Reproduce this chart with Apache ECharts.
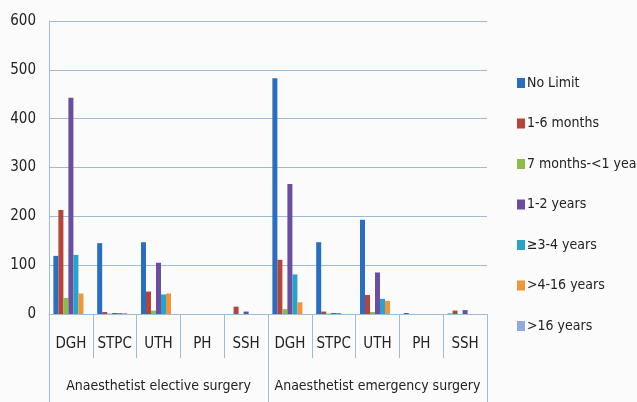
<!DOCTYPE html>
<html>
<head>
<meta charset="utf-8">
<script src="https://cdn.jsdelivr.net/npm/echarts@6/dist/echarts.min.js"></script>
<style>
  html, body { margin: 0; padding: 0; background: #fbfbfb; }
  #chart { width: 637px; height: 402px; }
</style>
</head>
<body>
<div id="chart"></div>
<script>
// hospital types, repeated for each group
var hospitals = ['DGH', 'STPC', 'UTH', 'PH', 'SSH', 'DGH', 'STPC', 'UTH', 'PH', 'SSH'];
var groups = ['Anaesthetist elective surgery', 'Anaesthetist emergency surgery'];
var seriesNames = ['No Limit', '1-6 months', '7 months-<1 year', '1-2 years', '≥3-4 years', '>4-16 years', '>16 years'];
var seriesColors = ['#2a6fbf', '#b5453a', '#8bbd4a', '#6a4fa0', '#2aa3c8', '#f0963a', '#92a9dc'];

// values (elective 5 then emergency 5)
var noLimit   = [119, 145, 147, 0, 0, 483, 147, 193, 2, 1];
var m1to6     = [213, 4, 46, 0, 15, 111, 5, 39, 0, 7];
var m7to1y    = [33, 1, 7, 0, 0, 10, 1, 4, 0, 0];
var y1to2     = [443, 2, 105, 0, 5, 266, 2, 85, 0, 8];
var y3to4     = [121, 2, 40, 0, 0, 81, 2, 31, 0, 0];
var y4to16    = [42, 2, 42, 0, 0, 24, 0, 27, 0, 0];
var over16    = [0, 0, 0, 0, 0, 0, 0, 0, 0, 0];
var allValues = [noLimit, m1to6, m7to1y, y1to2, y3to4, y4to16, over16];

var font = "'Liberation Sans Narrow', 'DejaVu Sans Condensed', sans-serif";
var lineColor = '#9dbcd6';

var series = seriesNames.map(function (name, i) {
  return {
    name: name,
    type: 'bar',
    data: allValues[i],
    barGap: 0,
    barCategoryGap: '20%',
    itemStyle: { color: seriesColors[i] }
  };
});

var chart = echarts.init(document.getElementById('chart'));
chart.setOption({
  animation: false,
  backgroundColor: '#fbfbfb',
  grid: { left: 49, right: 150, top: 21, bottom: 88 },
  legend: {
    orient: 'vertical',
    left: 512,
    top: 71,
    icon: 'rect',
    itemWidth: 8,
    itemHeight: 10,
    itemGap: 26.5,
    textStyle: { fontFamily: font, fontSize: 14, color: '#222', padding: [0, 0, 0, -3] },
    data: seriesNames
  },
  xAxis: [
    {
      type: 'category',
      data: hospitals,
      axisLine: { lineStyle: { color: lineColor } },
      axisTick: { show: true, interval: 0, length: 44, lineStyle: { color: lineColor } },
      axisLabel: { interval: 0, margin: 23, fontFamily: font, fontSize: 15, color: '#222' }
    },
    {
      type: 'category',
      position: 'bottom',
      data: groups,
      axisLine: { show: false },
      axisTick: { show: true, length: 88, lineStyle: { color: lineColor } },
      axisLabel: { interval: 0, margin: 65, fontFamily: font, fontSize: 14, color: '#222' }
    }
  ],
  yAxis: {
    type: 'value',
    min: 0,
    max: 600,
    interval: 100,
    axisLine: { show: true, lineStyle: { color: lineColor } },
    axisTick: { show: false },
    axisLabel: { margin: 13, fontFamily: font, fontSize: 15, color: '#222' },
    splitLine: { lineStyle: { color: lineColor } }
  },
  series: series
});
</script>
</body>
</html>
